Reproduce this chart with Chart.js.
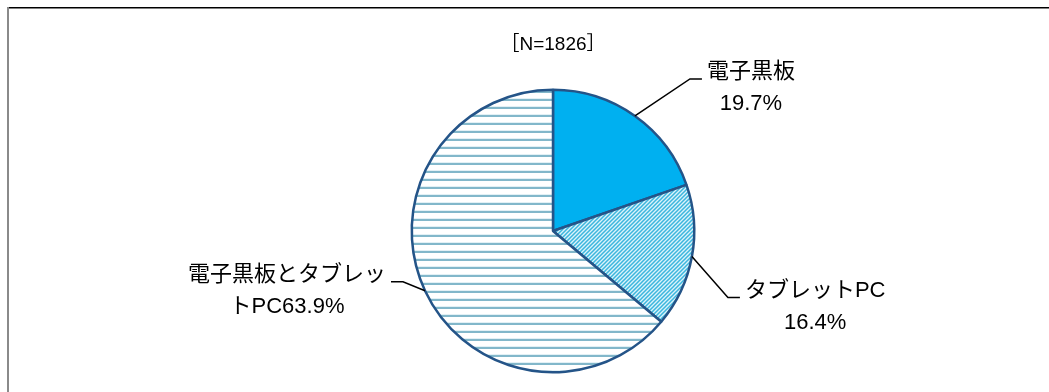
<!DOCTYPE html>
<html>
<head>
<meta charset="utf-8">
<script src="https://cdn.jsdelivr.net/npm/chart.js@4/dist/chart.umd.min.js"></script>
<style>
  html, body { margin: 0; padding: 0; background: #fff; }
  #wrap { width: 1049px; height: 392px; position: relative; }
</style>
</head>
<body>
<div id="wrap"><canvas id="shareChart"></canvas></div>
<script>
const categories = ["電子黒板", "タブレットPC", "電子黒板とタブレットPC"];
const shares = [19.7, 16.4, 63.9];
const sampleSize = 1826;
// where each label text wraps (characters on first line)
const labelBreak = [4, 7, 9];

// leader line bend relative to the slice edge, and side of the text
const leaderBends = [
  { dx: 55, dy: -37, side: 1 },
  { dx: 36, dy: 41, side: 1 },
  { dx: -22, dy: -9, side: -1 },
];

const labelFont = '22px "Liberation Sans", "Noto Sans CJK JP", sans-serif';

function diagonalPattern() {
  const c = document.createElement("canvas");
  c.width = 4;
  c.height = 4;
  const g = c.getContext("2d");
  g.fillStyle = "#dcf3fa";
  g.fillRect(0, 0, 4, 4);
  g.strokeStyle = "#3bb6de";
  g.lineWidth = 1.5;
  g.beginPath();
  g.moveTo(-1, 1); g.lineTo(1, -1);
  g.moveTo(-1, 5); g.lineTo(5, -1);
  g.moveTo(3, 5); g.lineTo(5, 3);
  g.stroke();
  return g.createPattern(c, "repeat");
}

function horizontalPattern() {
  const c = document.createElement("canvas");
  c.width = 8;
  c.height = 8;
  const g = c.getContext("2d");
  g.fillStyle = "#ffffff";
  g.fillRect(0, 0, 8, 8);
  g.fillStyle = "#e2f0f5";
  g.fillRect(0, 2, 8, 1);
  g.fillStyle = "#82b7ca";
  g.fillRect(0, 3, 8, 2);
  return g.createPattern(c, "repeat");
}

// frame: black top rule, grey left rule
const framePlugin = {
  id: "frame",
  beforeDraw(chart) {
    const ctx = chart.ctx;
    ctx.save();
    ctx.fillStyle = "#000";
    ctx.fillRect(7, 7, chart.width - 7, 1.5);
    ctx.fillStyle = "#8a8a8a";
    ctx.fillRect(7, 7, 2, chart.height - 7);
    ctx.restore();
  },
};

const leaderPlugin = {
  id: "leaders",
  afterDatasetsDraw(chart) {
    const ctx = chart.ctx;
    const meta = chart.getDatasetMeta(0);
    ctx.save();
    ctx.font = labelFont;
    ctx.fillStyle = "#000";
    ctx.strokeStyle = "#000";
    ctx.lineWidth = 1.5;
    meta.data.forEach((arc, i) => {
      const mid = (arc.startAngle + arc.endAngle) / 2;
      const x0 = arc.x + Math.cos(mid) * arc.outerRadius;
      const y0 = arc.y + Math.sin(mid) * arc.outerRadius;
      const b = leaderBends[i];
      const x1 = x0 + b.dx;
      const y1 = y0 + b.dy;
      const x2 = x1 + b.side * 12;
      ctx.beginPath();
      ctx.moveTo(x0, y0);
      ctx.lineTo(x1, y1);
      ctx.lineTo(x2, y1);
      ctx.stroke();

      const full = categories[i] + shares[i].toFixed(1) + "%";
      const chars = Array.from(full);
      const lines = [chars.slice(0, labelBreak[i]).join(""), chars.slice(labelBreak[i]).join("")];
      const w = Math.max(...lines.map((t) => ctx.measureText(t).width));
      const cx = x2 + b.side * (5 + w / 2);
      ctx.textAlign = "center";
      ctx.textBaseline = "middle";
      ctx.fillText(lines[0], cx, y1 - 7);
      ctx.fillText(lines[1], cx, y1 + 25);
    });
    ctx.restore();
  },
};

const ctx = document.getElementById("shareChart");

new Chart(ctx, {
  type: "pie",
  data: {
    labels: categories,
    datasets: [
      {
        data: shares,
        backgroundColor: ["#00b0f0", diagonalPattern(), horizontalPattern()],
        borderColor: "#245488",
        borderWidth: 2.5,
      },
    ],
  },
  options: {
    responsive: true,
    maintainAspectRatio: false,
    animation: false,
    layout: {
      padding: { left: 57, right: 0, top: 0, bottom: 18.5 },
    },
    plugins: {
      legend: { display: false },
      tooltip: { enabled: false },
      title: {
        display: true,
        text: "［N=" + sampleSize + "］",
        color: "#000",
        font: { family: '"Liberation Sans", "Noto Sans CJK JP", sans-serif', size: 19, weight: "normal", lineHeight: 1.2 },
        padding: { top: 33, bottom: 32.7 },
      },
    },
  },
  plugins: [framePlugin, leaderPlugin],
});
</script>
</body>
</html>
